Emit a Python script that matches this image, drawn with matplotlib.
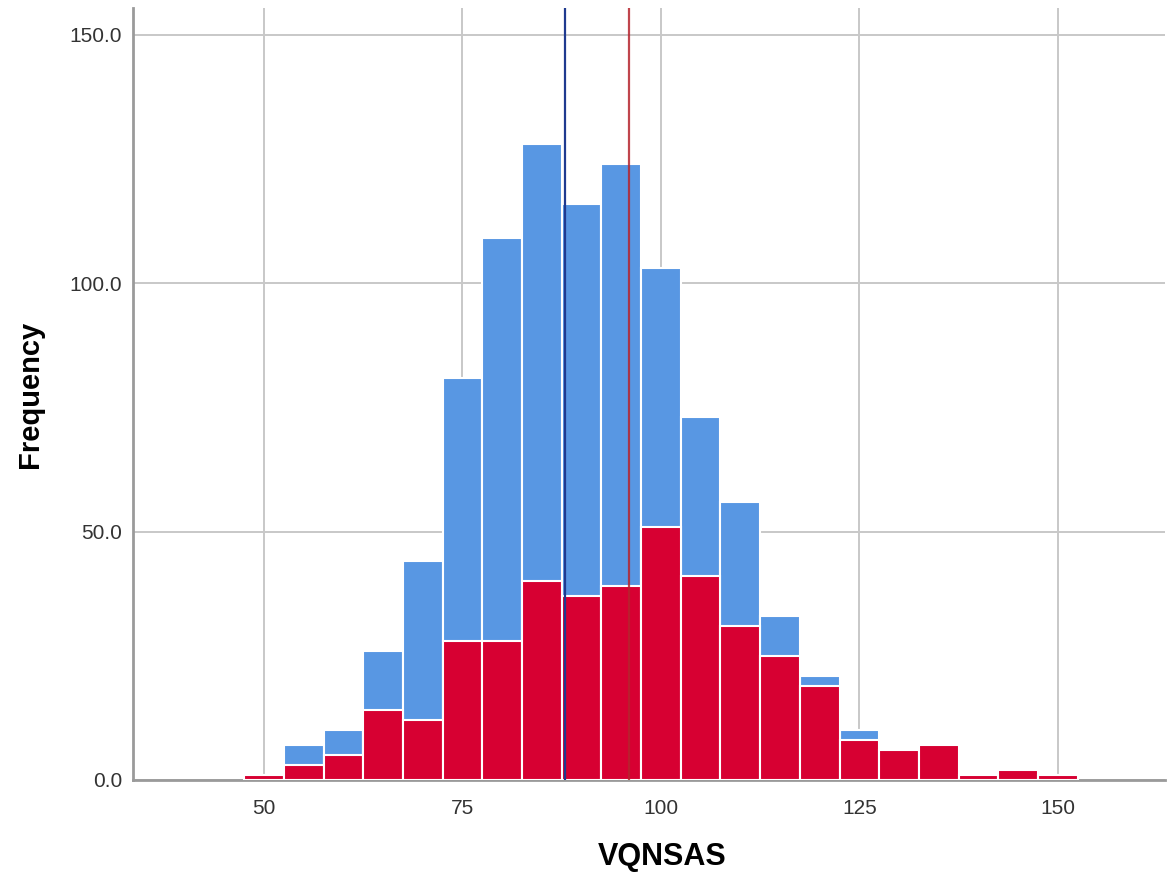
import matplotlib
matplotlib.use("Agg")
import matplotlib.pyplot as plt

plt.rcParams["font.family"] = ["Liberation Sans", "DejaVu Sans"]

# ── Data ──
bin_centers = [50, 55, 60, 65, 70, 75, 80, 85, 90, 95, 100,
               105, 110, 115, 120, 125, 130, 135, 140, 145, 150]
blue_counts = [1, 7, 10, 26, 44, 81, 109, 128, 116, 124, 103,
               73, 56, 33, 21, 10, 6, 7, 1, 2, 1]
red_counts = [1, 3, 5, 14, 12, 28, 28, 40, 37, 39, 51,
              41, 31, 25, 19, 8, 6, 7, 1, 2, 1]
bin_width = 5
blue_mean = 87.9
red_mean = 96.0
y_ticks = [0, 50, 100, 150]
x_ticks = [50, 75, 100, 125, 150]

blue = "#5897E3"
red = "#D70032"

fig = plt.figure(figsize=(11.69, 8.75), dpi=100)
ax = fig.add_axes([0.1138, 0.1086, 0.8828, 0.8823])

ax.bar(bin_centers, blue_counts, width=bin_width, color=blue,
       edgecolor="white", linewidth=1.5, zorder=2)
ax.bar(bin_centers, red_counts, width=bin_width, color=red,
       edgecolor="white", linewidth=1.5, zorder=3)

# group means
ax.axvline(blue_mean, color="#1F3A8F", linewidth=1.6, zorder=4)
ax.axvline(red_mean, color="#B5242E", linewidth=1.6, alpha=0.85, zorder=4)

ax.set_xlim(33.5, 163.5)
ax.set_ylim(0, 155.4)

ax.set_yticks(y_ticks)
ax.set_yticklabels([f"{v:.1f}" for v in y_ticks])
ax.set_xticks(x_ticks)

ax.grid(True, color="#C8C8C8", linewidth=1.4, zorder=0)
ax.set_axisbelow(True)

for side in ("top", "right"):
    ax.spines[side].set_visible(False)
for side in ("left", "bottom"):
    ax.spines[side].set_color("#9A9A9A")
    ax.spines[side].set_linewidth(2)

ax.tick_params(length=0, labelsize=15, labelcolor="#333333")
ax.tick_params(axis="x", pad=14)
ax.tick_params(axis="y", pad=8)

ax.set_ylabel("Frequency", fontsize=21, fontweight="bold", va="center")
ax.set_xlabel("VQNSAS", fontsize=22, fontweight="bold", va="center")
ax.yaxis.set_label_coords(-0.0998, 0.5)
ax.xaxis.set_label_coords(0.5126, -0.0997)

fig.savefig("out.png", dpi=100, facecolor="white")
